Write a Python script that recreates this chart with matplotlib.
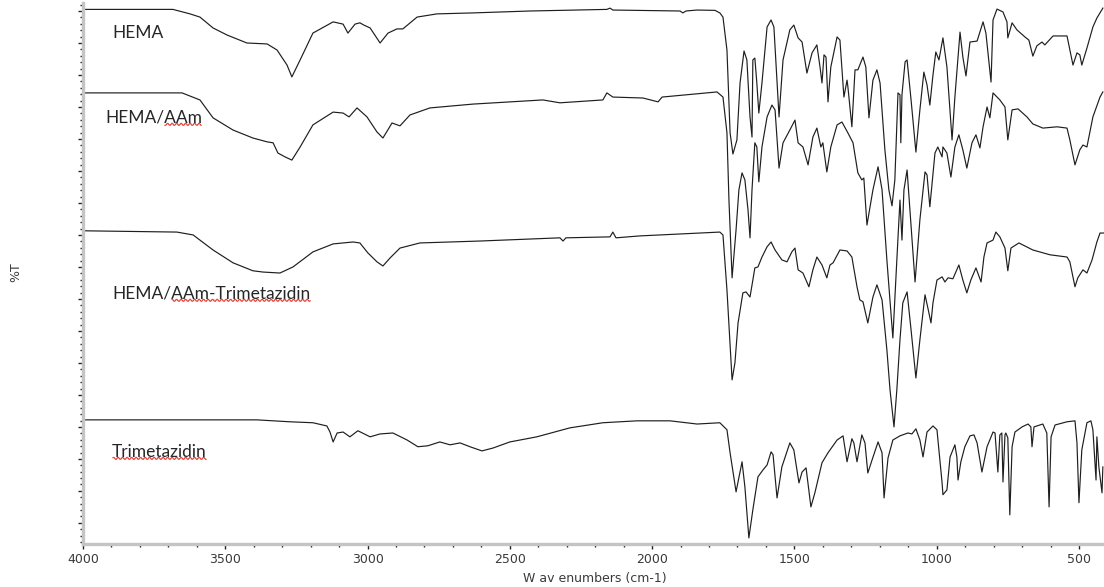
import numpy as np
import matplotlib
matplotlib.use("Agg")
import matplotlib.pyplot as plt
from matplotlib.lines import Line2D
from matplotlib.ticker import MultipleLocator, NullFormatter
from matplotlib.transforms import IdentityTransform

# FTIR spectra, stacked (%T with vertical offsets), wavenumber in cm-1
hema_wn = [4000, 3684, 3624, 3589, 3543, 3494, 3424, 3353, 3318, 3283, 3266, 3237, 3192, 3121,
           3086, 3069, 3044, 3027, 3013, 2991, 2956, 2928, 2897, 2876, 2826, 2756, 2630, 2429,
           2159, 2148, 2138, 1902, 1892, 1881, 1842, 1779, 1762, 1751, 1737, 1726, 1716, 1702,
           1691, 1677, 1667, 1656, 1649, 1646, 1639, 1632, 1625, 1614, 1596, 1582, 1572, 1561,
           1554, 1540, 1516, 1502, 1487, 1473, 1456, 1438, 1421, 1410, 1403, 1396, 1389, 1382,
           1372, 1350, 1340, 1326, 1315, 1312, 1298, 1287, 1277, 1259, 1249, 1238, 1224, 1210,
           1199, 1182, 1168, 1157, 1147, 1136, 1129, 1126, 1122, 1111, 1104, 1090, 1073, 1059,
           1045, 1034, 1024, 1013, 1003, 992, 978, 964, 946, 936, 918, 908, 897, 883, 858, 837,
           827, 809, 802, 788, 767, 753, 750, 735, 718, 690, 676, 662, 648, 630, 620, 591, 542,
           521, 507, 497, 490, 472, 451, 437, 416]
hema_t = [160.5, 160.5, 159.1, 158.1, 154.7, 152.5, 150.0, 149.7, 147.8, 143.1, 139.4, 144.7,
          153.1, 156.6, 155.9, 153.1, 155.9, 156.3, 155.6, 154.7, 150.0, 153.1, 154.4, 154.4,
          158.1, 159.1, 159.4, 160.0, 160.5, 160.9, 160.3, 160.0, 159.4, 160.0, 160.3, 160.2,
          159.4, 158.1, 147.8, 121.9, 115.3, 119.7, 137.5, 147.5, 144.7, 126.9, 120.6, 144.7,
          145.3, 137.5, 128.1, 137.5, 155.0, 157.2, 155.0, 137.5, 126.9, 144.7, 154.1, 155.6,
          151.6, 150.3, 140.6, 146.9, 149.4, 142.5, 137.5, 146.3, 145.6, 131.6, 142.5, 151.9,
          150.9, 133.1, 138.4, 136.3, 123.8, 141.6, 141.6, 145.6, 142.5, 126.6, 138.4, 141.6,
          137.5, 116.6, 104.1, 99.1, 107.2, 134.4, 133.8, 118.8, 133.8, 144.1, 144.7, 132.2,
          115.9, 129.1, 140.9, 136.9, 130.6, 140.0, 147.2, 144.7, 151.6, 142.5, 119.7, 133.1,
          153.4, 145.6, 139.7, 150.3, 150.6, 156.6, 153.1, 137.8, 157.2, 160.6, 159.7, 156.6,
          151.6, 156.3, 154.1, 151.9, 150.9, 145.9, 149.1, 150.3, 149.4, 152.2, 152.2, 143.1,
          146.9, 146.3, 143.1, 148.4, 155.0, 157.8, 160.9]

aam_wn = [4000, 3652, 3589, 3543, 3473, 3403, 3353, 3332, 3315, 3290, 3266, 3237, 3192, 3121,
          3086, 3065, 3037, 3002, 2967, 2946, 2914, 2886, 2851, 2781, 2630, 2384, 2324, 2173,
          2159, 2138, 2032, 1979, 1965, 1772, 1751, 1737, 1730, 1719, 1705, 1695, 1684, 1674,
          1663, 1656, 1649, 1639, 1632, 1625, 1614, 1596, 1579, 1568, 1554, 1540, 1516, 1498,
          1487, 1470, 1452, 1435, 1421, 1407, 1400, 1386, 1372, 1350, 1333, 1312, 1294, 1277,
          1263, 1256, 1245, 1224, 1206, 1192, 1175, 1154, 1140, 1129, 1122, 1115, 1104, 1094,
          1076, 1059, 1041, 1034, 1024, 1006, 996, 981, 978, 964, 950, 936, 922, 908, 894, 876,
          862, 848, 837, 823, 813, 802, 778, 760, 750, 735, 714, 683, 662, 627, 577, 542, 532,
          514, 497, 486, 472, 451, 426, 416]
aam_t = [134.4, 134.4, 132.2, 126.6, 122.8, 120.3, 119.1, 118.8, 115.6, 114.4, 113.4, 117.5,
         124.4, 128.4, 128.1, 126.9, 129.7, 126.9, 122.2, 120.3, 125.0, 124.1, 127.5, 129.7,
         130.9, 132.2, 131.3, 132.2, 134.4, 133.1, 132.8, 131.6, 133.1, 134.7, 133.1, 121.9,
         100.9, 76.6, 91.6, 104.1, 109.4, 107.2, 97.8, 89.1, 104.1, 118.8, 117.5, 106.6, 117.5,
         126.9, 130.6, 129.1, 110.9, 118.8, 122.8, 125.9, 118.8, 117.5, 111.9, 120.6, 123.4,
         117.5, 118.8, 109.7, 117.5, 124.4, 125.3, 121.9, 118.8, 109.4, 107.2, 107.8, 93.1,
         104.1, 111.3, 104.1, 82.2, 57.8, 82.2, 100.9, 88.4, 104.1, 110.3, 97.8, 75.3, 94.7,
         109.7, 108.8, 98.8, 115.6, 117.5, 114.4, 117.5, 115.6, 108.1, 117.5, 121.3, 116.6,
         110.9, 118.8, 121.3, 117.2, 123.8, 130.0, 126.6, 134.4, 132.2, 130.0, 119.7, 129.1,
         129.4, 126.9, 124.7, 123.4, 123.8, 123.4, 119.7, 111.9, 116.6, 118.1, 117.5, 126.9,
         133.1, 134.7]

drug_gel_wn = [4000, 3670, 3613, 3543, 3473, 3403, 3367, 3308, 3262, 3192, 3121, 3051, 3027,
               2999, 2967, 2946, 2921, 2886, 2816, 2605, 2324, 2313, 2303, 2148, 2138, 2127,
               2043, 1832, 1762, 1751, 1737, 1719, 1709, 1698, 1681, 1670, 1656, 1646, 1639,
               1628, 1614, 1596, 1582, 1568, 1544, 1526, 1509, 1498, 1487, 1470, 1449, 1435,
               1421, 1403, 1386, 1375, 1364, 1340, 1315, 1298, 1280, 1270, 1259, 1242, 1224,
               1210, 1192, 1175, 1164, 1150, 1140, 1129, 1119, 1104, 1090, 1073, 1059, 1041,
               1031, 1020, 1013, 999, 981, 971, 960, 943, 922, 908, 894, 880, 862, 844, 834,
               823, 802, 792, 778, 760, 750, 739, 711, 662, 602, 542, 532, 514, 504, 486, 472,
               454, 437, 426, 412]
drug_gel_t = [91.3, 90.9, 90.0, 85.3, 81.3, 78.8, 78.4, 78.1, 80.0, 84.7, 87.2, 87.8, 87.5,
              84.4, 81.6, 80.3, 82.8, 85.9, 87.5, 88.1, 89.1, 88.1, 89.1, 89.4, 90.9, 89.1,
              89.7, 90.6, 90.9, 90.0, 72.8, 44.7, 50.0, 62.5, 71.9, 72.2, 70.6, 75.9, 79.7,
              80.0, 83.1, 86.3, 87.8, 85.3, 82.2, 81.6, 84.7, 85.9, 79.1, 78.1, 73.8, 79.1,
              83.1, 80.6, 76.6, 80.6, 81.3, 85.3, 85.0, 83.1, 73.8, 69.7, 69.1, 62.5, 70.6,
              74.4, 69.7, 54.1, 41.6, 30.0, 41.6, 57.2, 68.8, 72.2, 60.3, 45.3, 57.2, 71.3,
              67.2, 62.5, 68.8, 75.9, 76.9, 75.3, 76.6, 76.3, 80.6, 75.9, 71.9, 75.9, 79.7,
              75.3, 83.1, 87.5, 88.4, 90.9, 89.4, 85.9, 78.8, 85.9, 87.5, 85.3, 83.8, 83.1,
              81.6, 73.8, 76.6, 79.1, 78.1, 82.2, 87.8, 90.6, 90.6]

tmz_wn = [4000, 3389, 3273, 3192, 3143, 3132, 3121, 3107, 3086, 3062, 3034, 2991, 2956, 2911,
          2861, 2823, 2788, 2746, 2710, 2675, 2640, 2598, 2559, 2500, 2405, 2289, 2173, 2053,
          1937, 1842, 1762, 1737, 1726, 1705, 1684, 1674, 1660, 1646, 1628, 1610, 1596, 1582,
          1575, 1561, 1544, 1516, 1502, 1484, 1473, 1459, 1456, 1442, 1428, 1403, 1382, 1350,
          1329, 1315, 1298, 1291, 1280, 1263, 1252, 1242, 1227, 1206, 1192, 1185, 1171, 1154,
          1129, 1101, 1087, 1073, 1059, 1048, 1034, 1013, 999, 981, 978, 964, 953, 936, 929,
          925, 915, 901, 883, 869, 858, 841, 823, 802, 795, 785, 778, 771, 767, 760, 757, 750,
          743, 735, 725, 700, 679, 669, 665, 658, 627, 613, 605, 598, 584, 542, 514, 507, 500,
          490, 472, 458, 451, 440, 437, 430, 419, 416]
tmz_t = [32.2, 32.2, 31.6, 31.3, 30.3, 28.4, 25.3, 28.1, 28.4, 26.9, 28.8, 26.9, 27.8, 28.1,
         25.9, 23.8, 24.1, 25.3, 24.4, 25.0, 23.8, 22.5, 23.4, 25.3, 26.9, 29.7, 31.3, 31.9,
         31.9, 30.9, 31.3, 29.1, 21.9, 9.7, 19.1, 11.3, -4.7, 4.1, 14.4, 16.6, 18.1, 22.2,
         21.3, 7.8, 17.5, 25.0, 22.8, 12.5, 15.9, 17.2, 15.0, 5.0, 9.4, 18.8, 21.9, 25.9,
         27.2, 19.1, 26.3, 25.0, 19.1, 27.5, 25.0, 15.6, 19.7, 25.3, 21.9, 7.8, 20.3, 25.9,
         27.2, 28.1, 27.8, 29.4, 25.9, 20.6, 28.4, 30.3, 29.1, 12.5, 8.8, 10.3, 20.6, 24.4,
         20.6, 13.4, 19.1, 23.8, 27.2, 27.5, 25.0, 15.9, 23.8, 28.4, 28.1, 15.9, 27.5, 28.1,
         12.8, 27.5, 28.1, 26.6, 2.5, 23.8, 28.4, 30.0, 30.9, 30.0, 23.8, 30.0, 30.9, 28.1,
         5.0, 26.9, 30.6, 31.6, 31.9, 25.0, 6.3, 22.8, 31.3, 31.9, 29.1, 13.4, 26.9, 17.5,
         9.4, 17.5]

names = ["HEMA", "HEMA/AAm", "HEMA/AAm-Trimetazidin", "Trimetazidin"]
# part of each name that carries the red spell-check underline
flagged = ["", "AAm", "AAm-Trimetazidin", "Trimetazidin"]


def squiggle(fig, txt, word):
    r = fig.canvas.get_renderer()
    full = txt.get_text()
    box = txt.get_window_extent(r)
    head = full[:full.index(word)]
    x0 = box.x0
    if head:
        tmp = fig.text(0, 0, head, fontsize=txt.get_fontsize(), family=txt.get_fontfamily())
        x0 += tmp.get_window_extent(r).width
        tmp.remove()
    xs = np.arange(x0 + 1, box.x1, 1.0)
    ys = box.y0 + 1.5 + 1.1 * np.sin(xs * 2 * np.pi / 4.5)
    fig.add_artist(Line2D(xs, ys, transform=IdentityTransform(), color="#e8443a", lw=0.9))


fig = plt.figure(figsize=(11.04, 5.87), dpi=100)
ax = fig.add_axes([83 / 1104, 43 / 587, 1021 / 1104, 541 / 587])

for wn, t in [(hema_wn, hema_t), (aam_wn, aam_t), (drug_gel_wn, drug_gel_t), (tmz_wn, tmz_t)]:
    ax.plot(wn, t, color="#1e1e1e", lw=0.85)

ax.set_xlim(4000, 412)
ax.set_ylim(-6.6, 162.5)

ax.xaxis.set_major_locator(MultipleLocator(500))
ax.xaxis.set_minor_locator(MultipleLocator(100))
ax.yaxis.set_major_locator(MultipleLocator(10))
ax.yaxis.set_minor_locator(MultipleLocator(2))
ax.yaxis.set_major_formatter(NullFormatter())

for s in ["top", "right"]:
    ax.spines[s].set_visible(False)
for s in ["left", "bottom"]:
    ax.spines[s].set_color("#c4c4c4")
    ax.spines[s].set_linewidth(2.4)

ax.tick_params(which="major", direction="out", length=3.5, width=1, color="#222222",
               labelsize=9, labelcolor="#3a3a3a", pad=3)
ax.tick_params(which="minor", direction="out", length=2, width=1, color="#222222")

ax.set_xlabel("W av enumbers (cm-1)", fontsize=9, color="#3a3a3a")
ax.xaxis.set_label_coords(0.5015, -0.052)
ax.set_ylabel("%T", fontsize=9, color="#3a3a3a")
ax.yaxis.set_label_coords(-0.0595, 0.503)

label_y = [153.1, 126.6, 71.6, 22.2]
label_x = [3898, 3923, 3898, 3898]
texts = []
for n, x, y in zip(names, label_x, label_y):
    texts.append(ax.text(x, y, n, fontsize=12.5, family="Lato", color="#262626",
                         ha="left", va="center"))

fig.canvas.draw()
for t, w in zip(texts, flagged):
    if w:
        squiggle(fig, t, w)

fig.savefig("out.png", dpi=100)
